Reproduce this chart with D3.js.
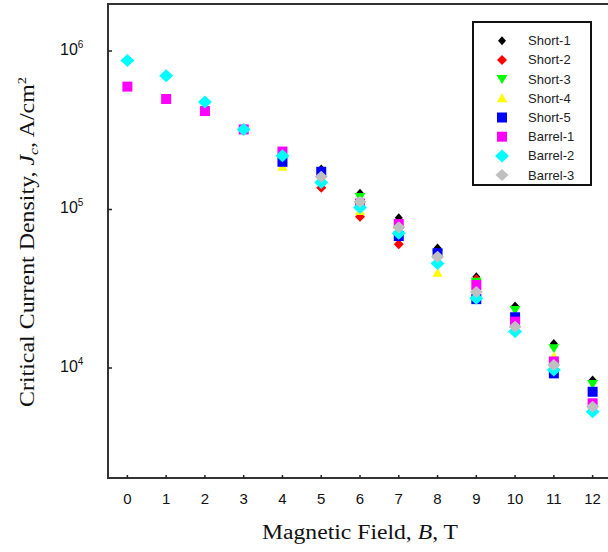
<!DOCTYPE html>
<html>
<head>
<meta charset="utf-8">
<script src="https://cdn.jsdelivr.net/npm/d3@7"></script>
<style>
  html, body { margin: 0; padding: 0; background: #fff; }
  svg { display: block; }
</style>
</head>
<body>
<svg id="chart" width="608" height="552"></svg>
<script>
// Magnetic field values (T)
const fields = [0, 1, 2, 3, 4, 5, 6, 7, 8, 9, 10, 11, 12];

// Critical current density (A/cm^2) per sample; null where no point is shown
const short1 = [null, null, null, null, null, 1.80e5, 1.265e5, 8.87e4, 5.71e4, 3.77e4, 2.46e4, 1.43e4, 8.4e3];
const short2 = [null, null, null, null, null, 1.37e5, 9.0e4, 6.03e4, null, 3.63e4, null, null, null];
const short3 = [null, null, null, null, null, 1.53e5, 1.2e5, 7.4e4, 5.25e4, 3.5e4, 2.32e4, 1.33e4, 7.94e3];
const short4 = [null, null, null, null, 1.86e5, null, 9.8e4, null, 3.99e4, 3.34e4, null, 1.18e4, null];
const short5 = [null, null, null, null, 2.0e5, 1.73e5, null, 6.8e4, 5.3e4, 2.72e4, 2.09e4, 9.25e3, 7.08e3];
const barrel1 = [5.96e5, 4.98e5, 4.18e5, 3.2e5, 2.32e5, null, 1.09e5, 8.1e4, null, 3.34e4, 1.96e4, 1.1e4, 5.99e3];
const barrel2 = [8.7e5, 6.98e5, 4.76e5, 3.2e5, 2.18e5, 1.48e5, 1.03e5, 7.08e4, 4.57e4, 2.75e4, 1.70e4, 9.7e3, 5.3e3];
const barrel3 = [null, null, null, null, null, 1.61e5, 1.12e5, 7.73e4, 5.04e4, 3.02e4, 1.82e4, 1.045e4, 5.7e3];

const seriesNames = ["Short-1", "Short-2", "Short-3", "Short-4", "Short-5", "Barrel-1", "Barrel-2", "Barrel-3"];
const seriesValues = [short1, short2, short3, short4, short5, barrel1, barrel2, barrel3];
const seriesColors = ["#000000", "#ff0000", "#00ff00", "#ffff00", "#0000ff", "#ff00ff", "#00ffff", "#c0c0c0"];
const seriesShapes = ["diamondS", "diamondM", "triDown", "triUp", "square", "square", "diamondL", "diamondG"];

const yTicks = [1e4, 1e5, 1e6];
const yTickExponents = ["4", "5", "6"];

// Marker outlines centred on the origin
function shapePath(kind) {
  switch (kind) {
    case "diamondS": return "M0,-4.5L4,0L0,4.5L-4,0Z";
    case "diamondM": return "M0,-5L5,0L0,5L-5,0Z";
    case "diamondL": return "M0,-6.5L7,0L0,6.5L-7,0Z";
    case "diamondG": return "M0,-6L6.5,0L0,6L-6.5,0Z";
    case "square":   return "M-5,-5H5V5H-5Z";
    case "triDown":  return "M-5.5,-4H5.5L0,5Z";
    case "triUp":    return "M0,-5L5,4H-5Z";
  }
}

const svg = d3.select("#chart");

const x = d3.scaleLinear().domain([-0.5, 12.5]).range([108, 612]);
const y = d3.scaleLog().domain([Math.pow(10, 3.306), Math.pow(10, 6.2965)]).range([478, 4]);

const plotLeft = 108, plotTop = 4, plotBottom = 478, plotRight = 612;

// Plot frame
svg.append("rect")
  .attr("x", plotLeft).attr("y", plotTop)
  .attr("width", plotRight - plotLeft).attr("height", plotBottom - plotTop)
  .attr("fill", "none").attr("stroke", "#333").attr("stroke-width", 2);

// X axis ticks (inward) and labels
const xAxis = svg.append("g");
xAxis.selectAll("line").data(fields).join("line")
  .attr("x1", d => x(d)).attr("x2", d => x(d))
  .attr("y1", plotBottom).attr("y2", plotBottom - 3)
  .attr("stroke", "#222").attr("stroke-width", 1.5);
xAxis.selectAll("text").data(fields).join("text")
  .attr("x", d => x(d)).attr("y", 504)
  .attr("text-anchor", "middle")
  .attr("font-family", "Liberation Sans, Arial, sans-serif")
  .attr("font-size", 15).attr("fill", "#111")
  .text(d => d);

// Y axis ticks (inward) and labels
const yAxis = svg.append("g");
yAxis.selectAll("line").data(yTicks).join("line")
  .attr("x1", plotLeft).attr("x2", plotLeft + 4)
  .attr("y1", d => y(d)).attr("y2", d => y(d))
  .attr("stroke", "#222").attr("stroke-width", 1.5);
const yLab = yAxis.selectAll("text").data(yTicks).join("text")
  .attr("x", 60).attr("y", d => y(d) + 4)
  .attr("font-family", "Liberation Sans, Arial, sans-serif")
  .attr("font-size", 16).attr("fill", "#111");
yLab.append("tspan").text("10");
yLab.append("tspan").attr("font-size", 10).attr("dy", -7).text((d, i) => yTickExponents[i]);

// Axis titles
const xt = svg.append("text")
  .attr("x", 360).attr("y", 539)
  .attr("text-anchor", "middle")
  .attr("font-family", "Liberation Serif, Times New Roman, serif")
  .attr("font-size", 20).attr("fill", "#111")
  .attr("textLength", 196).attr("lengthAdjust", "spacingAndGlyphs");
xt.append("tspan").text("Magnetic Field, ");
xt.append("tspan").attr("font-style", "italic").text("B");
xt.append("tspan").text(", T");

const yt = svg.append("text")
  .attr("transform", "translate(34,242) rotate(-90)")
  .attr("text-anchor", "middle")
  .attr("font-family", "Liberation Serif, Times New Roman, serif")
  .attr("font-size", 20).attr("fill", "#111")
  .attr("textLength", 330).attr("lengthAdjust", "spacingAndGlyphs");
yt.append("tspan").text("Critical Current Density, ");
yt.append("tspan").attr("font-style", "italic").text("J");
yt.append("tspan").attr("font-style", "italic").attr("font-size", 13).attr("dy", 4).text("c");
yt.append("tspan").attr("dy", -4).text(", A/cm");
yt.append("tspan").attr("font-size", 12).attr("dy", -8).text("2");

// Data markers, drawn in series order
seriesValues.forEach((vals, si) => {
  const pts = fields.map((f, i) => ({ f, v: vals[i] })).filter(p => p.v != null);
  svg.append("g").selectAll("path").data(pts).join("path")
    .attr("d", shapePath(seriesShapes[si]))
    .attr("transform", p => `translate(${x(p.f)},${y(p.v)})`)
    .attr("fill", seriesColors[si]);
});

// Legend
const legend = svg.append("g");
legend.append("rect")
  .attr("x", 473).attr("y", 22).attr("width", 118).attr("height", 163)
  .attr("fill", "#fff").attr("stroke", "#111").attr("stroke-width", 2);
const rows = legend.selectAll("g.row").data(seriesNames).join("g")
  .attr("transform", (d, i) => `translate(0,${40.7 + i * 19.2})`);
rows.append("path")
  .attr("d", (d, i) => shapePath(seriesShapes[i]))
  .attr("transform", "translate(502,0)")
  .attr("fill", (d, i) => seriesColors[i]);
rows.append("text")
  .attr("x", 528).attr("y", 4.5)
  .attr("font-family", "Liberation Sans, Arial, sans-serif")
  .attr("font-size", 13).attr("fill", "#222")
  .text(d => d);
</script>
</body>
</html>
